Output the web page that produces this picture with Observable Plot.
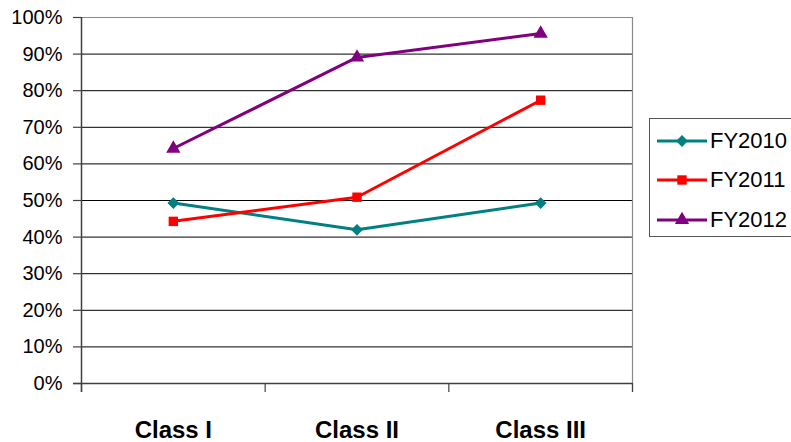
<!DOCTYPE html>
<html><head><meta charset="utf-8">
<script src="https://cdn.jsdelivr.net/npm/d3@7"></script>
<script src="https://cdn.jsdelivr.net/npm/@observablehq/plot@0.6"></script>
<style>
body{margin:0;background:#fff;font-family:Arial,"Liberation Sans",sans-serif}
#wrap{position:relative;width:791px;height:442px;overflow:hidden;background:#fff}
#legend{position:absolute;left:649px;top:118px;width:170px;height:119px;border:1px solid #555;box-sizing:border-box;background:#fff}
.lrow{position:absolute;left:0;height:30px}
.lrow svg{position:absolute;left:6px;top:0}
.lrow span{position:absolute;left:60px;top:0;line-height:30px;font-size:22px;color:#000;white-space:nowrap}
</style></head><body><div id="wrap"></div>
<script>
const categories = ["Class I", "Class II", "Class III"];
const seriesNames = ["FY2010", "FY2011", "FY2012"];
const fy2010 = [0.493, 0.420, 0.493];
const fy2011 = [0.443, 0.509, 0.774];
const fy2012 = [0.642, 0.891, 0.956];
const yTicks = [0, 0.1, 0.2, 0.3, 0.4, 0.5, 0.6, 0.7, 0.8, 0.9, 1.0];
const colors = ["#008080", "#FF0000", "#800080"];
const symbols = ["diamond2", "square", "triangle"];

const seriesValues = [fy2010, fy2011, fy2012];
const rows = [];
seriesValues.forEach((vals, s) => vals.forEach((v, i) => rows.push({xi: i + 0.5, series: seriesNames[s], value: v})));

const chart = Plot.plot({
  width: 791, height: 442,
  marginLeft: 81, marginRight: 159, marginTop: 17, marginBottom: 59,
  style: {fontFamily: "Arial, 'Liberation Sans', sans-serif", background: "#fff", color: "#000"},
  x: {type: "linear", domain: [0, categories.length], axis: null, label: null},
  y: {domain: [0, 1], axis: null, label: null},
  color: {domain: seriesNames, range: colors},
  symbol: {domain: seriesNames, range: symbols},
  marks: [
    Plot.ruleY(yTicks.filter(d => d > 0 && d < 1), {stroke: "#000", strokeWidth: 1}),
    Plot.ruleY([1], {stroke: "#8a8a8a", strokeWidth: 1.2}),
    Plot.ruleX([categories.length], {stroke: "#8a8a8a", strokeWidth: 1.2, insetBottom: -9}),
    Plot.axisY({ticks: yTicks, tickFormat: d => Math.round(d * 100) + "%", tickSize: 8, tickPadding: 11, fontSize: 20, stroke: "#404040", strokeWidth: 1.2, label: null}),
    Plot.axisX({ticks: d3.range(categories.length + 1), tickFormat: () => "", tickSize: 9, stroke: "#404040", strokeWidth: 1.2, label: null}),
    Plot.axisX({ticks: categories.map((c, i) => i + 0.5), tickFormat: d => categories[Math.floor(d)], tickSize: 0, tickPadding: 37, fontSize: 24, fontWeight: "bold", label: null}),
    Plot.ruleX([0], {stroke: "#404040", strokeWidth: 1.5, insetBottom: -9}),
    Plot.ruleY([0], {stroke: "#404040", strokeWidth: 1.5, insetLeft: -8}),
    Plot.line(rows, {x: "xi", y: "value", z: "series", stroke: "series", strokeWidth: 3}),
    Plot.dot(rows, {x: "xi", y: "value", symbol: "series", fill: "series", stroke: "none", r: 5.3})
  ]
});
const wrap = document.getElementById("wrap");
wrap.appendChild(chart);

const legend = document.createElement("div");
legend.id = "legend";
const rowTops = [7, 46, 86];
seriesNames.forEach((name, i) => {
  const row = document.createElement("div");
  row.className = "lrow";
  row.style.top = rowTops[i] + "px";
  const svg = d3.create("svg").attr("width", 52).attr("height", 30);
  svg.append("line").attr("x1", 1).attr("x2", 51).attr("y1", 15).attr("y2", 15).attr("stroke", colors[i]).attr("stroke-width", 3);
  const symTypes = [d3.symbolDiamond2, d3.symbolSquare, d3.symbolTriangle];
  svg.append("path").attr("d", d3.symbol(symTypes[i], Math.PI * 5.3 * 5.3)()).attr("transform", "translate(26,15)").attr("fill", colors[i]);
  row.appendChild(svg.node());
  const sp = document.createElement("span");
  sp.textContent = name;
  row.appendChild(sp);
  legend.appendChild(row);
});
wrap.appendChild(legend);
</script>
</body></html>
